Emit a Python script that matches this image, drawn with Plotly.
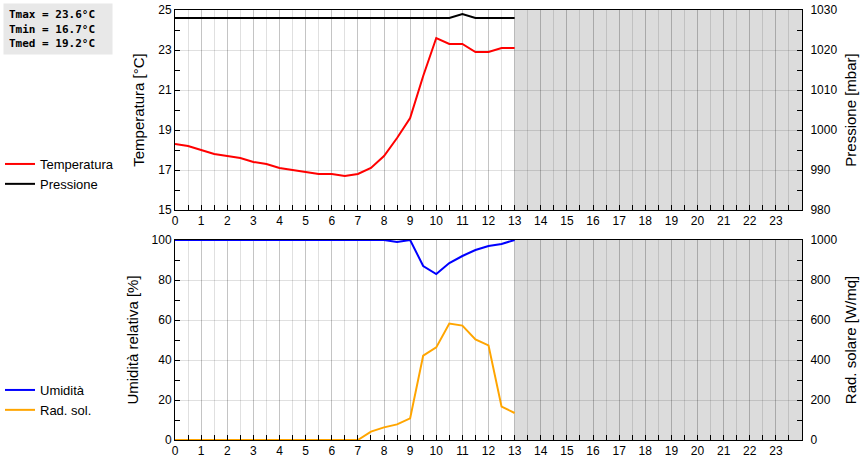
import plotly.graph_objects as go

# ---- data ----
hours = [0, 0.5, 1, 1.5, 2, 2.5, 3, 3.5, 4, 4.5, 5, 5.5, 6, 6.5, 7, 7.5, 8, 8.5,
         9, 9.5, 10, 10.5, 11, 11.5, 12, 12.5, 13]
temperatura = [18.3, 18.2, 18.0, 17.8, 17.7, 17.6, 17.4, 17.3, 17.1, 17.0, 16.9, 16.8,
               16.8, 16.7, 16.8, 17.1, 17.7, 18.6, 19.6, 21.7, 23.6, 23.3, 23.3, 22.9,
               22.9, 23.1, 23.1]
pressione = [1028, 1028, 1028, 1028, 1028, 1028, 1028, 1028, 1028, 1028, 1028, 1028,
             1028, 1028, 1028, 1028, 1028, 1028, 1028, 1028, 1028, 1028, 1029, 1028,
             1028, 1028, 1028]
umidita = [100, 100, 100, 100, 100, 100, 100, 100, 100, 100, 100, 100, 100, 100, 100,
           100, 100, 99, 100, 87, 83, 88.5, 92, 95, 97, 98, 100]
rad_sol = [0, 0, 0, 0, 0, 0, 0, 0, 0, 0, 0, 0, 0, 0, 0, 42, 63, 78, 108, 422, 463,
           582, 572, 503, 473, 167, 135]
hour_ticks = list(range(24))
stats_text = ["Tmax = 23.6°C", "Tmin = 16.7°C", "Tmed = 19.2°C"]

# ---- layout geometry ----
W, H = 860, 460
ML, MR, MT, MB = 175, 58, 10, 20
PW, PH = W - ML - MR, H - MT - MB


def px_x(p):
    return (p - ML) / PW


def px_y(p):
    return (H - MB - p) / PH


FONT = "Liberation Sans, Arial, sans-serif"
GRID = "rgba(0,0,0,0.12)"

fig = go.Figure()
fig.add_trace(go.Scatter(x=hours, y=temperatura, name="Temperatura", mode="lines",
                         line=dict(color="#ff0000", width=2), xaxis="x", yaxis="y",
                         legend="legend", hoverinfo="skip"))
fig.add_trace(go.Scatter(x=hours, y=pressione, name="Pressione", mode="lines",
                         line=dict(color="#000000", width=2), xaxis="x", yaxis="y3",
                         legend="legend", hoverinfo="skip"))
fig.add_trace(go.Scatter(x=hours, y=umidita, name="Umidità", mode="lines",
                         line=dict(color="#0000ff", width=2), xaxis="x2", yaxis="y2",
                         legend="legend2", hoverinfo="skip"))
fig.add_trace(go.Scatter(x=hours, y=rad_sol, name="Rad. sol.", mode="lines",
                         line=dict(color="#ffa500", width=2), xaxis="x2", yaxis="y4",
                         legend="legend2", hoverinfo="skip"))

top_dom = [px_y(210), 1.0]
bot_dom = [0.0, px_y(240)]

xcommon = dict(range=[0, 24], tickvals=hour_ticks, showgrid=True, gridcolor=GRID,
               gridwidth=1, showline=True, linecolor="black", linewidth=1, mirror=True,
               ticks="inside", ticklen=5, tickcolor="black", zeroline=False,
               automargin=False,
               tickfont=dict(family=FONT, size=12, color="black"),
               minor=dict(dtick=0.5, showgrid=True, gridcolor=GRID, ticks="inside",
                          ticklen=5, tickcolor="black"))
ycommon = dict(showline=True, linecolor="black", linewidth=1, ticks="inside", ticklen=5,
               tickcolor="black", zeroline=False, automargin=False,
               tickfont=dict(family=FONT, size=12, color="black"))

fig.update_layout(
    width=W, height=H,
    margin=dict(l=ML, r=MR, t=MT, b=MB, autoexpand=False),
    paper_bgcolor="white", plot_bgcolor="white",
    font=dict(family=FONT, size=13, color="black"),
    hovermode=False,
    xaxis=dict(domain=[0, 1], anchor="y", **xcommon),
    xaxis2=dict(domain=[0, 1], anchor="y2", **xcommon),
    yaxis=dict(domain=top_dom, anchor="x", range=[15, 25], tickvals=[15, 17, 19, 21, 23, 25],
               showgrid=True, gridcolor=GRID,
               minor=dict(dtick=1, ticks="inside", ticklen=5, tickcolor="black", showgrid=False),
               title=dict(text="Temperatura [°C]", font=dict(family=FONT, size=15), standoff=9),
               **ycommon),
    yaxis3=dict(overlaying="y", side="right", anchor="x", range=[980, 1030], dtick=10,
                showgrid=False, ticklabelstandoff=5,
                minor=dict(dtick=5, ticks="inside", ticklen=5, tickcolor="black", showgrid=False),
                title=dict(text="Pressione [mbar]", font=dict(family=FONT, size=15), standoff=9),
                **ycommon),
    yaxis2=dict(domain=bot_dom, anchor="x2", range=[0, 100], dtick=20,
                showgrid=True, gridcolor=GRID,
                minor=dict(dtick=10, ticks="inside", ticklen=5, tickcolor="black", showgrid=False),
                title=dict(text="Umidità relativa [%]", font=dict(family=FONT, size=15), standoff=9),
                **ycommon),
    yaxis4=dict(overlaying="y2", side="right", anchor="x2", range=[0, 1000], dtick=200,
                showgrid=False, ticklabelstandoff=5,
                minor=dict(dtick=100, ticks="inside", ticklen=5, tickcolor="black", showgrid=False),
                title=dict(text="Rad. solare [W/mq]", font=dict(family=FONT, size=15), standoff=9),
                **ycommon),
    legend=dict(xref="container", yref="container", x=0, y=1 - 149 / H,
                xanchor="left", yanchor="top", bgcolor="rgba(0,0,0,0)",
                font=dict(family=FONT, size=13), tracegroupgap=0, itemwidth=30),
    legend2=dict(xref="container", yref="container", x=0, y=1 - 375 / H,
                 xanchor="left", yanchor="top", bgcolor="rgba(0,0,0,0)",
                 font=dict(family=FONT, size=13), tracegroupgap=0, itemwidth=30),
    showlegend=True,
)

# shaded "future" region (hours after the last reading)
last_hour = hours[-1]
for xr, yr in (("x", "y domain"), ("x2", "y2 domain")):
    fig.add_shape(type="rect", xref=xr, yref=yr, x0=last_hour, x1=24, y0=0, y1=1,
                  fillcolor="#dcdcdc", line=dict(width=0), layer="below")

# stats box
fig.add_annotation(xref="paper", yref="paper", x=px_x(3), y=px_y(3),
                   xanchor="left", yanchor="top", showarrow=False, align="left",
                   text="<br>".join("<b>%s</b>" % s for s in stats_text),
                   font=dict(family="DejaVu Sans Mono", size=11, color="black"),
                   bgcolor="#e8e8e8", width=98, height=40, borderpad=5)

fig.write_html("out.html", config={"displayModeBar": False, "staticPlot": True},
               post_script="document.body.style.margin='0';document.body.style.overflow='hidden';")
